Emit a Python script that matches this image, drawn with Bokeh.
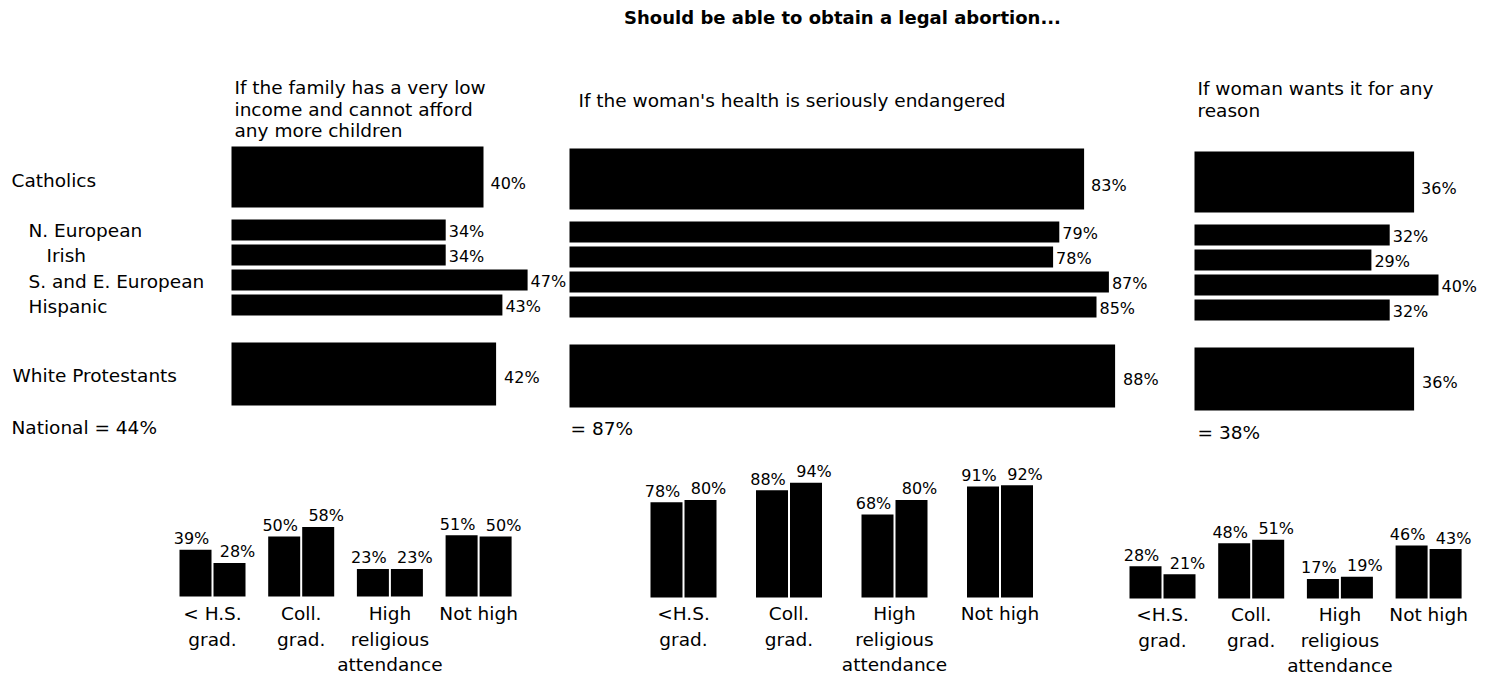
from bokeh.plotting import figure
from bokeh.models import Range1d
from bokeh.core.properties import value
from bokeh.embed import file_html
from bokeh.resources import INLINE

# ---------------- data ----------------
title_text = "Should be able to obtain a legal abortion..."
panel_titles = [
    ["If the family has a very low", "income and cannot afford", "any more children"],
    ["If the woman's health is seriously endangered"],
    ["If woman wants it for any", "reason"],
]
rows = ["Catholics", "N. European", "Irish", "S. and E. European", "Hispanic", "White Protestants"]
low_income = [40, 34, 34, 47, 43, 42]
woman_health = [83, 79, 78, 87, 85, 88]
any_reason = [36, 32, 29, 40, 32, 36]
national = [44, 87, 38]

sub_labels = [
    [["< H.S.", "grad."], ["Coll.", "grad."], ["High", "religious", "attendance"], ["Not high"]],
    [["<H.S.", "grad."], ["Coll.", "grad."], ["High", "religious", "attendance"], ["Not high"]],
    [["<H.S.", "grad."], ["Coll.", "grad."], ["High", "religious", "attendance"], ["Not high"]],
]
low_income_first = [39, 50, 23, 51]
low_income_second = [28, 58, 23, 50]
health_first = [78, 88, 68, 91]
health_second = [80, 94, 80, 92]
reason_first = [28, 48, 17, 46]
reason_second = [21, 51, 19, 43]

top_values = [low_income, woman_health, any_reason]
bottom_first = [low_income_first, health_first, reason_first]
bottom_second = [low_income_second, health_second, reason_second]

# ---------------- layout constants (pixels) ----------------
W, H = 1492, 678
X0, Y0 = 0, 0
FONT = value("DejaVu Sans")
BODY = "18.5px"
VAL = "16px"

ROW_Y = [176.5, 229.5, 254.5, 279.5, 304.5, 373.5]
ROW_H = [61, 21, 21, 21, 21, 63]
ROW_LABEL_X = [11, 28, 46, 28, 28, 12]
ROW_LABEL_DY = [3.5, 0.5, 0.5, 1.5, 1.5, 1.5]
VALUE_DY = [6, 1, 1, 1, 1, 3]
VALUE_GAP = [7, 3, 3, 3, 3, 8]

TOP_X0 = [231, 569, 1194]
TOP_K = [6.3, 6.2, 6.1]
TOP_DY = [0, 2, 5]
NATIONAL_POS = [(11, 427), (570, 428), (1197, 432)]
TITLE_POS = [(234, 87), (578, 100), (1197, 88)]
LINE_H = 21.5

BOT_BASE = [596, 597, 598]
BOT_K = [1.2, 1.22, 1.15]
BOT_C0 = [212, 683, 1162]
BOT_S = [88.7, 105.5, 88.7]
BOT_LABEL_Y0 = [613, 613, 614]
BOT_LINE_H = 25.5
BAR_W = 32
BAR_HALF_SEP = 17

p = figure(width=W, height=H, x_range=Range1d(X0, X0 + W), y_range=Range1d(Y0 + H, Y0),
           output_backend="svg", toolbar_location=None, min_border=0)
p.axis.visible = False
p.grid.visible = False
p.outline_line_color = None
p.background_fill_color = "white"
p.border_fill_color = "white"

# extra ranges so that bars are mapped by Bokeh scales
for i in range(3):
    x0, k = TOP_X0[i], TOP_K[i]
    p.extra_x_ranges[f"top{i}"] = Range1d((X0 - x0) / k, (X0 + W - x0) / k)
    b, kb = BOT_BASE[i], BOT_K[i]
    p.extra_y_ranges[f"bot{i}"] = Range1d((b - (Y0 + H)) / kb, (b - Y0) / kb)
    c0, s = BOT_C0[i], BOT_S[i]
    p.extra_x_ranges[f"botx{i}"] = Range1d((X0 - c0) / s, (X0 + W - c0) / s)

# title
p.text(x=[842], y=[17], text=[title_text], text_font=value("DejaVu Sans"),
       text_font_style="bold", text_font_size="18px", text_align="center",
       text_baseline="middle", text_color="black")

# panel titles
for i, lines in enumerate(panel_titles):
    tx, ty = TITLE_POS[i]
    p.text(x=[tx] * len(lines), y=[ty + j * LINE_H for j in range(len(lines))], text=lines,
           text_font=FONT, text_font_size=BODY, text_align="left", text_baseline="middle",
           text_color="black")

# row labels
p.text(x=ROW_LABEL_X, y=[ROW_Y[r] + ROW_LABEL_DY[r] for r in range(len(rows))], text=rows,
       text_font=FONT, text_font_size=BODY, text_align="left", text_baseline="middle",
       text_color="black")

# national labels
nat_text = [f"National = {national[0]}%", f"= {national[1]}%", f"= {national[2]}%"]
for i in range(3):
    p.text(x=[NATIONAL_POS[i][0]], y=[NATIONAL_POS[i][1]], text=[nat_text[i]],
           text_font=FONT, text_font_size=BODY, text_align="left", text_baseline="middle",
           text_color="black")

# top horizontal bars
for i in range(3):
    vals = top_values[i]
    ys = [ROW_Y[r] + TOP_DY[i] for r in range(len(rows))]
    p.hbar(y=ys, height=ROW_H, left=0, right=vals, x_range_name=f"top{i}",
           fill_color="black", line_color=None)
    for r in range(len(rows)):
        p.text(x=[vals[r]], y=[ys[r] + VALUE_DY[r]], text=[f"{vals[r]}%"],
               x_offset=VALUE_GAP[r], x_range_name=f"top{i}",
               text_font=FONT, text_font_size=VAL, text_align="left",
               text_baseline="middle", text_color="black")

# bottom vertical bar pairs
for i in range(3):
    s = BOT_S[i]
    idx = list(range(4))
    xa = [g - BAR_HALF_SEP / s for g in idx]
    xb = [g + BAR_HALF_SEP / s for g in idx]
    a, b = bottom_first[i], bottom_second[i]
    p.vbar(x=xa, width=BAR_W / s, top=a, bottom=0, x_range_name=f"botx{i}",
           y_range_name=f"bot{i}", fill_color="black", line_color=None)
    p.vbar(x=xb, width=BAR_W / s, top=b, bottom=0, x_range_name=f"botx{i}",
           y_range_name=f"bot{i}", fill_color="black", line_color=None)
    p.text(x=xa, y=a, text=[f"{v}%" for v in a], x_offset=-4, y_offset=-11,
           x_range_name=f"botx{i}", y_range_name=f"bot{i}",
           text_font=FONT, text_font_size=VAL, text_align="center",
           text_baseline="middle", text_color="black")
    p.text(x=xb, y=b, text=[f"{v}%" for v in b], x_offset=8, y_offset=-11,
           x_range_name=f"botx{i}", y_range_name=f"bot{i}",
           text_font=FONT, text_font_size=VAL, text_align="center",
           text_baseline="middle", text_color="black")
    # category labels
    lx, ly, lt = [], [], []
    for g, lines in enumerate(sub_labels[i]):
        for j, line in enumerate(lines):
            lx.append(g)
            ly.append(BOT_LABEL_Y0[i] + j * BOT_LINE_H)
            lt.append(line)
    p.text(x=lx, y=ly, text=lt, x_range_name=f"botx{i}",
           text_font=FONT, text_font_size=BODY, text_align="center",
           text_baseline="middle", text_color="black")

open("out.html", "w").write(file_html(p, INLINE))
